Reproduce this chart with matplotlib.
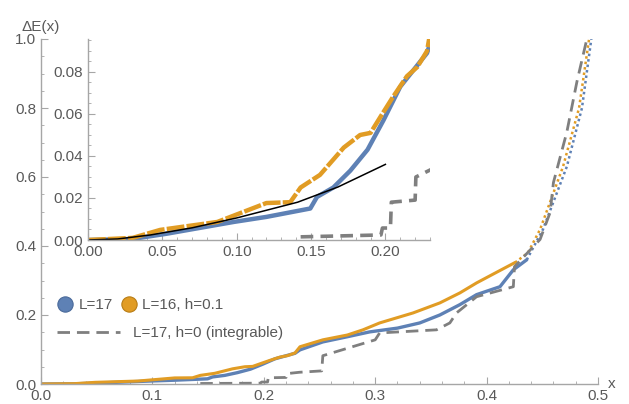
import numpy as np
import matplotlib.pyplot as plt
from matplotlib.lines import Line2D
from matplotlib.ticker import MultipleLocator, FormatStrFormatter

plt.rcParams['font.family'] = ['Liberation Sans', 'DejaVu Sans']

# ---- data ------------------------------------------------------------------
# L=17 (blue), dense part and sparse tail
x_l17 = [0.0, 0.03, 0.053, 0.098, 0.12, 0.1495, 0.154, 0.165, 0.1764, 0.188,
         0.1987, 0.21, 0.219, 0.228, 0.2325, 0.253, 0.275, 0.295, 0.32, 0.34,
         0.358, 0.376, 0.391, 0.412, 0.424, 0.436]
y_l17 = [0.0, 0.0005, 0.003, 0.0086, 0.011, 0.015, 0.0205, 0.025, 0.033, 0.043,
         0.057, 0.073, 0.081, 0.089, 0.099, 0.122, 0.137, 0.151, 0.162, 0.177,
         0.2, 0.23, 0.259, 0.282, 0.331, 0.36]
x_l17_tail = [0.436, 0.4506, 0.472, 0.4856, 0.494]
y_l17_tail = [0.36, 0.448, 0.63, 0.8, 1.0]

# L=16, h=0.1 (orange)
x_l16 = [0.0, 0.03, 0.0485, 0.087, 0.12, 0.136, 0.143, 0.156, 0.172, 0.183,
         0.19, 0.197, 0.205, 0.2145, 0.2215, 0.228, 0.2325, 0.253, 0.275,
         0.289, 0.304, 0.334, 0.358, 0.376, 0.391, 0.412, 0.4255]
y_l16 = [0.0, 0.001, 0.0048, 0.0086, 0.0176, 0.018, 0.025, 0.031, 0.044, 0.05,
         0.051, 0.059, 0.068, 0.078, 0.0824, 0.09, 0.108, 0.128, 0.142,
         0.157, 0.177, 0.206, 0.235, 0.264, 0.293, 0.329, 0.352]
x_l16_tail = [0.4255, 0.437, 0.448, 0.4686, 0.483, 0.492]
y_l16_tail = [0.352, 0.38, 0.448, 0.63, 0.8, 1.0]

# L=17, h=0 (integrable), step-like curve
x_int = [0.143, 0.197, 0.198, 0.2034, 0.204, 0.22, 0.2205, 0.232, 0.252,
         0.253, 0.30, 0.304, 0.355, 0.367, 0.373, 0.391, 0.424, 0.425, 0.448,
         0.457, 0.46, 0.472, 0.481, 0.49]
y_int = [0.0015, 0.0024, 0.0057, 0.0057, 0.018, 0.019, 0.030, 0.034, 0.038,
         0.082, 0.128, 0.148, 0.157, 0.177, 0.206, 0.253, 0.282, 0.34, 0.419,
         0.497, 0.584, 0.73, 0.875, 1.0]

# small-x fit (black line in the inset)
x_fit = [0.0, 0.02, 0.042, 0.07, 0.1, 0.141, 0.168, 0.2]
y_fit = [0.0, 0.0005, 0.0024, 0.0058, 0.0105, 0.018, 0.0252, 0.036]

blue = '#5E81B5'
orange = '#E19C24'
grey = '#7f7f7f'
axcol = '#a6a6a6'
txtcol = '#595959'


def style_axes(ax):
    for s in ['top', 'right']:
        ax.spines[s].set_visible(False)
    for s in ['left', 'bottom']:
        ax.spines[s].set_color(axcol)
        ax.spines[s].set_linewidth(1.0)
        ax.spines[s].set_position(('data', 0))
    ax.tick_params(which='both', direction='in', colors=axcol,
                   labelcolor=txtcol, labelsize=11)
    ax.tick_params(which='major', length=5, width=0.8)
    ax.tick_params(which='minor', length=2.5, width=0.6)
    ax.patch.set_alpha(0)


fig = plt.figure(figsize=(6.29, 4.04), dpi=100)

# ---- main axes --------------------------------------------------------------
ax = fig.add_axes([41 / 629, 1 - 384 / 404, (598 - 41) / 629, (384 - 39) / 404])
style_axes(ax)
ax.set_xlim(0, 0.5)
ax.set_ylim(0, 1.0)
ax.xaxis.set_major_locator(MultipleLocator(0.1))
ax.xaxis.set_minor_locator(MultipleLocator(0.02))
ax.yaxis.set_major_locator(MultipleLocator(0.2))
ax.yaxis.set_minor_locator(MultipleLocator(0.05))
ax.xaxis.set_major_formatter(FormatStrFormatter('%.1f'))
ax.yaxis.set_major_formatter(FormatStrFormatter('%.1f'))

ax.plot(x_l17, y_l17, color=blue, lw=2.4, solid_capstyle='round')
ax.plot(x_l16, y_l16, color=orange, lw=2.2, solid_capstyle='round')
ax.plot(x_l17_tail, y_l17_tail, color=blue, lw=1.8, ls=(0, (1, 1.2)))
ax.plot(x_l16_tail, y_l16_tail, color=orange, lw=1.8, ls=(0, (1, 1.2)))
ax.plot(x_int, y_int, color=grey, lw=2.0, ls=(0, (4.5, 2.5)))

ax.annotate('\u0394E(x)', xy=(0, 1.0), xycoords='data', xytext=(0, 9),
            textcoords='offset points', ha='center', va='center',
            color=txtcol, fontsize=11, annotation_clip=False)
ax.annotate('x', xy=(0.5, 0), xycoords='data', xytext=(10, 0),
            textcoords='offset points', ha='center', va='center',
            color=txtcol, fontsize=11, annotation_clip=False)

# legend
h1 = Line2D([], [], ls='none', marker='o', ms=11, color=blue,
            markeredgecolor='#4a6a9a', markeredgewidth=0.8)
h2 = Line2D([], [], ls='none', marker='o', ms=11, color=orange,
            markeredgecolor='#b87c14', markeredgewidth=0.8)
leg1 = fig.legend([h1, h2], ['L=17', 'L=16, h=0.1'], ncol=2,
                  loc='center left', bbox_to_anchor=(57 / 629, 1 - 305 / 404),
                  frameon=False, fontsize=11, handlelength=1.1,
                  handletextpad=0.3, columnspacing=0.5, borderpad=0,
                  borderaxespad=0, labelcolor=txtcol)
h3 = Line2D([], [], color=grey, lw=2.0, ls=(0, (4.5, 2.5)))
leg2 = fig.legend([h3], ['L=17, h=0 (integrable)'],
                  loc='center left', bbox_to_anchor=(57 / 629, 1 - 333 / 404),
                  frameon=False, fontsize=11, handlelength=4.1,
                  handletextpad=0.9, borderpad=0, borderaxespad=0,
                  labelcolor=txtcol)

# ---- inset ------------------------------------------------------------------
ins = fig.add_axes([88 / 629, 1 - 240 / 404, (430 - 88) / 629, (240 - 39) / 404])
style_axes(ins)
ins.set_xlim(0, 0.23)
ins.set_ylim(0, 0.0957)
ins.xaxis.set_major_locator(MultipleLocator(0.05))
ins.xaxis.set_minor_locator(MultipleLocator(0.01))
ins.yaxis.set_major_locator(MultipleLocator(0.02))
ins.yaxis.set_minor_locator(MultipleLocator(0.005))
ins.xaxis.set_major_formatter(FormatStrFormatter('%.2f'))
ins.yaxis.set_major_formatter(FormatStrFormatter('%.2f'))

ins.plot(x_int, y_int, color=grey, lw=2.6, ls=(0, (3.5, 2)))
ins.plot(x_l17, y_l17, color=blue, lw=3.2, solid_capstyle='round')
ins.plot(x_l16, y_l16, color=orange, lw=3.2, ls=(0, (4, 0.5)))
ins.plot(x_fit, y_fit, color='black', lw=1.1)

fig.savefig('out.png', dpi=100)
